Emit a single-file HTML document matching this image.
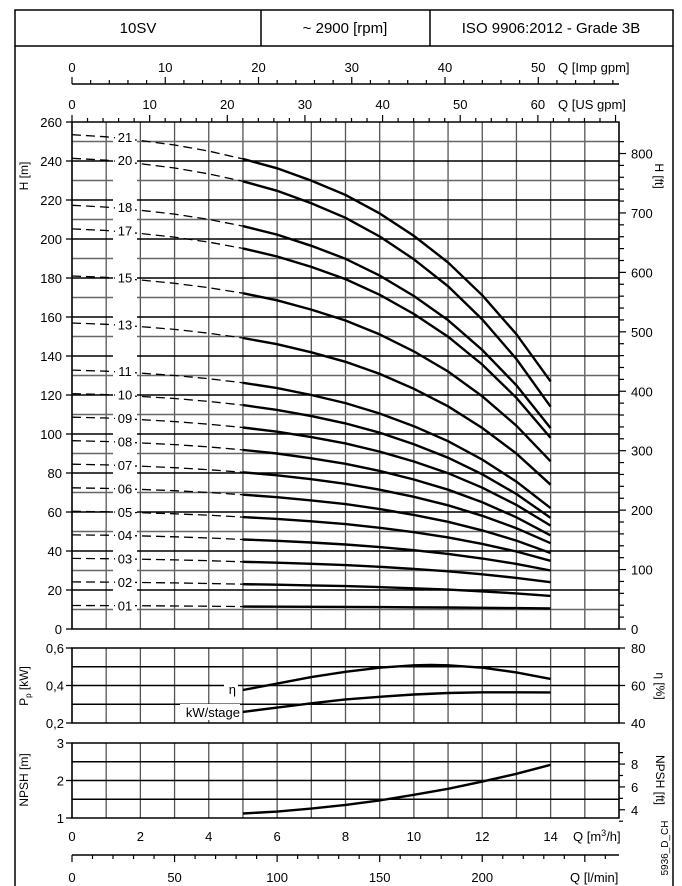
<!DOCTYPE html>
<html><head><meta charset="utf-8"><style>
body{margin:0;background:#fff;}
svg{display:block;font-family:"Liberation Sans",sans-serif;}
</style></head><body>
<svg id="c" width="682" height="886" viewBox="0 0 682 886">
<rect x="0" y="0" width="682" height="886" fill="#fff"/>
<g>
<rect x="15" y="10" width="658" height="36" fill="none" stroke="#000" stroke-width="1.5"/>
<line x1="261" y1="10" x2="261" y2="46" stroke="#000" stroke-width="1.5"/>
<line x1="430" y1="10" x2="430" y2="46" stroke="#000" stroke-width="1.5"/>
<line x1="15" y1="46" x2="15" y2="886" stroke="#000" stroke-width="1.5"/>
<line x1="673" y1="46" x2="673" y2="886" stroke="#000" stroke-width="1.5"/>
<text x="138" y="33" font-size="15" text-anchor="middle">10SV</text>
<text x="345" y="33" font-size="15" text-anchor="middle">~ 2900 [rpm]</text>
<text x="551" y="33" font-size="15" text-anchor="middle">ISO 9906:2012 - Grade 3B</text>
</g>
<g id="g"></g>
</svg>
<script>
const stageNames=["21","20","18","17","15","13","11","10","09","08","07","06","05","04","03","02","01"];
const stageCounts=[21,20,18,17,15,13,11,10,9,8,7,6,5,4,3,2,1];
const stageEndHead=[127,114,103,98,86,74,62,57,53,48,44,39,35,30,24,17,10.5];
const flowQ=[0,1,2,3,4,5,6,7,8,9,10,11,12,13,14];
const headPerStage=[12.07,12.02,11.93,11.82,11.67,11.48,11.25,10.95,10.6,10.15,9.6,8.95,8.15,7.2,6.05];
const effQ=[5,6,7,8,9,10,10.5,11,12,13,14];
const effVals=[57.6,61,64.5,67.3,69.5,70.8,71,70.8,69.5,67,63.5];
const kwQ=[5,6,7,8,9,10,11,12,13,14];
const kwVals=[0.259,0.282,0.305,0.326,0.34,0.352,0.36,0.364,0.364,0.363];
const npshQ=[5,6,7,8,9,10,11,12,13,14];
const npshVals=[1.12,1.17,1.25,1.35,1.47,1.62,1.78,1.97,2.18,2.42];
const hTicks=[0,20,40,60,80,100,120,140,160,180,200,220,240,260];
const ftTicks=[0,100,200,300,400,500,600,700,800];
const qTicks=[0,2,4,6,8,10,12,14];

const NS="http://www.w3.org/2000/svg";
const G=document.getElementById('g');
function el(t,a,p){const e=document.createElementNS(NS,t);for(const k in a)e.setAttribute(k,a[k]);(p||G).appendChild(e);return e;}
const X0=72,X1=619,QMAX=16;
const xs=q=>X0+q*(X1-X0)/QMAX;
const yH=h=>629-h*(629-122)/260;
const yP=p=>723-(p-0.2)*75/0.4;
const yE=e=>723-(e-40)*75/40;
const yN=n=>818-(n-1)*75/2;
function line(x1,y1,x2,y2,w,c,name){const l=el('line',{x1,y1,x2,y2,stroke:c||'#000','stroke-width':w||1});return l;}
function txt(x,y,s,anchor,size,name,extra){const t=el('text',Object.assign({x,y,'font-size':size||13,'text-anchor':anchor||'middle'},extra||{}));t.textContent=s;return t;}
function pathOf(xsArr,ysArr,fx,fy){let d='';for(let i=0;i<xsArr.length;i++)d+=(i?'L':'M')+fx(xsArr[i]).toFixed(1)+','+fy(ysArr[i]).toFixed(1);return d;}

for(let q=0;q<=QMAX;q++)line(xs(q),122,xs(q),629,1.3,'#555','v-grid');
for(let h=10;h<=250;h+=10)line(X0,yH(h),X1,yH(h),1.4,h%20?'#666':'#000','h-grid');
const fr=el('rect',{x:X0,y:122,width:X1-X0,height:507,fill:'none',stroke:'#000','stroke-width':1.5});

hTicks.forEach(h=>{line(X0-6,yH(h),X0,yH(h),1.3);txt(X0-10,yH(h)+5,String(h),'end',13,'h-tick-label');});
for(let f=0;f<=820;f+=20){const y=yH(f*0.3048);if(y<122)break;line(X1,y,X1+(f%100?5:7),y,1.2,'#000','ft-tick');}
ftTicks.forEach(f=>txt(X1+12,yH(f*0.3048)+5,String(f),'start',13,'ft-tick-label'));
txt(28,176,'H [m]','middle',12,'y-axis-title',{transform:'rotate(-90 28 176)'});
txt(655,176,'H [ft]','middle',12,'y-axis-title-ft',{transform:'rotate(90 655 176)'});

const lb=el('rect',{x:113,y:125,width:24,height:490,fill:'#fff'});

stageCounts.forEach((n,k)=>{
  // blend per-stage curve so that end head matches stageEndHead
  const base=headPerStage.map(h=>h*n);
  const drop0=base[5]-base[14];
  const drop1=base[5]-stageEndHead[k];
  const hs=base.map((h,i)=>flowQ[i]<=5?h:base[5]-(base[5]-h)*drop1/drop0);
  const dq=[],dh=[],sq=[],sh=[];
  flowQ.forEach((q,i)=>{if(q<=5){dq.push(q);dh.push(hs[i]);}if(q>=5){sq.push(q);sh.push(hs[i]);}});
  const d1=el('path',{d:pathOf(dq,dh,xs,yH),fill:'none',stroke:'#000','stroke-width':1.3,'stroke-dasharray':'9,5'});
  
  const s1=el('path',{d:pathOf(sq,sh,xs,yH),fill:'none',stroke:'#000','stroke-width':2.4});
  
  const bx=el('rect',{x:115,y:yH(hs[1])-8,width:20,height:14,fill:'#fff'});
  
  txt(125,yH(hs[1])+5,stageNames[k],'middle',13,'stage-label-'+stageNames[k]);
});

line(X0,84,X1,84,1.5,'#000','imp-gpm-axis');
for(let g=0;g<=58;g+=2){const x=xs(g/3.666);if(x>X1)break;line(x,84,x,g%10?80:77,1.2,'#000','imp-tick');}
for(let g=0;g<=50;g+=10)txt(xs(g/3.666),72,String(g),'middle',13,'imp-gpm-label');
txt(558,72,'Q [Imp gpm]','start',13,'imp-gpm-title');
for(let g=0;g<=70;g+=2){const x=xs(g/4.403);if(x>X1)break;line(x,122,x,g%10?118:115,1.2,'#000','us-tick');}
for(let g=0;g<=60;g+=10)txt(xs(g/4.403),109,String(g),'middle',13,'us-gpm-label');
txt(558,109,'Q [US gpm]','start',13,'us-gpm-title');

for(let q=0;q<=QMAX;q++)line(xs(q),648,xs(q),723,1.3,'#555','v-grid');
[0.3,0.4,0.5].forEach(p=>line(X0,yP(p),X1,yP(p),1.4,'#000','h-grid'));
const f2=el('rect',{x:X0,y:648,width:X1-X0,height:75,fill:'none',stroke:'#000','stroke-width':1.5});

[[0.6,'0,6'],[0.4,'0,4'],[0.2,'0,2']].forEach(([p,s])=>{line(X0-6,yP(p),X0,yP(p),1.3);txt(X0-8,yP(p)+5,s,'end',13,'power-tick-label');});
[80,60,40].forEach(e=>{line(X1,yE(e),X1+6,yE(e),1.3);txt(X1+12,yE(e)+5,String(e),'start',13,'eff-tick-label');});
const pt=txt(28,686,'P','middle',12,'power-axis-title',{transform:'rotate(-90 28 686)'});
const ps=el('tspan',{dy:3,'font-size':8},pt);ps.textContent='p';
const pr=el('tspan',{dy:-3},pt);pr.textContent=' [kW]';
txt(656,686,'η [%]','middle',12,'eff-axis-title',{transform:'rotate(90 656 686)'});
const ep=el('path',{d:pathOf(effQ,effVals,xs,yE),fill:'none',stroke:'#000','stroke-width':2.4});

const kp=el('path',{d:pathOf(kwQ,kwVals,xs,yP),fill:'none',stroke:'#000','stroke-width':2.4});

const b1=el('rect',{x:224,y:680,width:14,height:16,fill:'#fff'});
txt(236,694,'η','end',13,'eta-label');
const b2=el('rect',{x:180,y:704,width:60,height:16,fill:'#fff'});
txt(240,717,'kW/stage','end',13,'kw-stage-label');

for(let q=0;q<=QMAX;q++)line(xs(q),743,xs(q),818,1.3,'#555','v-grid');
[1.5,2,2.5].forEach(n=>line(X0,yN(n),X1,yN(n),1.4,'#000','h-grid'));
const f3=el('rect',{x:X0,y:743,width:X1-X0,height:75,fill:'none',stroke:'#000','stroke-width':1.5});

[3,2,1].forEach(n=>{line(X0-6,yN(n),X0,yN(n),1.3);txt(X0-8,yN(n)+5,String(n),'end',13,'npsh-tick-label');});
for(let f=3;f<=9;f++){const y=yN(f*0.3048);line(X1,y,X1+(f%2?4:6),y,1.2,'#000','npsh-ft-tick');}
[4,6,8].forEach(f=>txt(X1+12,yN(f*0.3048)+5,String(f),'start',13,'npsh-ft-label'));
txt(28,780,'NPSH [m]','middle',12,'npsh-axis-title',{transform:'rotate(-90 28 780)'});
txt(656,780,'NPSH [ft]','middle',12,'npsh-ft-title',{transform:'rotate(90 656 780)'});
const np=el('path',{d:pathOf(npshQ,npshVals,xs,yN),fill:'none',stroke:'#000','stroke-width':2.4});


qTicks.forEach(q=>txt(xs(q),841,String(q),'middle',13,'q-tick-label'));
const qt=txt(573,841,'Q [m','start',13,'q-axis-title');
const sup=el('tspan',{dy:-5,'font-size':9},qt);sup.textContent='3';
const r=el('tspan',{dy:5},qt);r.textContent='/h]';

line(X0,855,X1,855,1.5,'#000','lmin-axis');
for(let l=0;l<=260;l+=10){const x=xs(l*0.06);if(x>X1)break;line(x,855,x,l%50?859:862,1.2,'#000','lmin-tick');}
for(let l=0;l<=200;l+=50)txt(xs(l*0.06),882,String(l),'middle',13,'lmin-label');
txt(570,882,'Q [l/min]','start',13,'lmin-title');
txt(668,848,'5936_D_CH','middle',10,'doc-code',{transform:'rotate(-90 668 848)'});
</script>
</body></html>
